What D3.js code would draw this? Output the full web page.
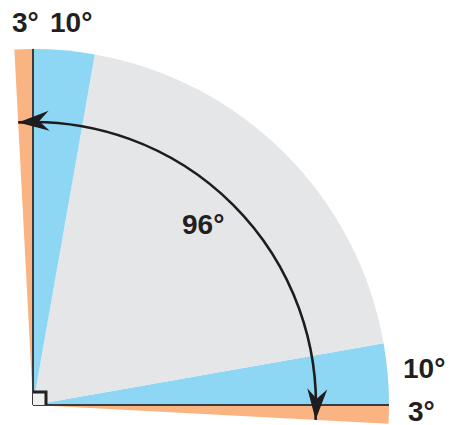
<!DOCTYPE html>
<html><head><meta charset="utf-8">
<script src="https://cdn.jsdelivr.net/npm/d3@7"></script>
<style>html,body{margin:0;padding:0;background:#fff}svg{display:block}</style>
</head><body>
<svg id="c" width="453" height="425"></svg>
<script>
// Data: angular bands in degrees (counter‑clockwise from the horizontal)
const bandFrom  = [-3, 0, 10, 80, 90];
const bandTo    = [0, 10, 80, 90, 93];
const bandKind  = ["tolerance", "margin", "range", "margin", "tolerance"];
const sweepFrom = -3, sweepTo = 93;          // total sweep arrow
const sweepLabel = "96°";
const topLabels = ["3°", "10°"];
const rightLabels = ["10°", "3°"];

const svg = d3.select("#c");
const cx = 33, cy = 405, R = 356, rArrow = 283;

// degree -> d3 arc angle (clockwise from 12 o'clock)
const ang = d3.scaleLinear().domain([0, 90]).range([Math.PI / 2, 0]);
const color = d3.scaleOrdinal().domain(["tolerance", "margin", "range"])
  .range(["#f9b482", "#8dd7f5", "#e5e6e8"]);

const g = svg.append("g").attr("transform", `translate(${cx},${cy})`);
const arc = d3.arc().innerRadius(0).outerRadius(R);

g.selectAll("path.band").data(bandFrom.map((f, i) => ({ f, t: bandTo[i], k: bandKind[i] })))
  .join("path").attr("class", "band")
  .attr("d", d => arc({ startAngle: ang(d.t), endAngle: ang(d.f) }))
  .attr("fill", d => color(d.k));

// axes (0° and 90° lines)
const pt = (deg, r) => [r * Math.sin(ang(deg)), -r * Math.cos(ang(deg))];
[0, 90].forEach(d => {
  const p = pt(d, R);
  g.append("line").attr("x1", 0).attr("y1", 0).attr("x2", p[0]).attr("y2", p[1])
    .attr("stroke", "#3b3b3d").attr("stroke-width", 2);
});

// right angle marker
const s = 13;
g.append("rect").attr("x", 0).attr("y", -s).attr("width", s).attr("height", s).attr("fill", "#eef0f1");
g.append("path").attr("d", `M0,${-s}H${s}V0`).attr("fill", "none")
  .attr("stroke", "#222").attr("stroke-width", 3);

// arrow heads
const defs = svg.append("defs");
defs.append("marker").attr("id", "ah").attr("markerUnits", "userSpaceOnUse")
  .attr("viewBox", "-33 -12 35 24").attr("refX", 0).attr("refY", 0)
  .attr("markerWidth", 35).attr("markerHeight", 24).attr("orient", "auto-start-reverse")
  .append("path").attr("d", "M0,0 L-31,-10 L-21,0 L-31,10 Z").attr("fill", "#1d1d1f");

const path = d3.path();
path.arc(0, 0, rArrow, -sweepFrom * Math.PI / 180, -sweepTo * Math.PI / 180, true);
g.append("path").attr("d", path.toString()).attr("fill", "none")
  .attr("stroke", "#1d1d1f").attr("stroke-width", 2.6)
  .attr("marker-start", "url(#ah)").attr("marker-end", "url(#ah)");

// labels
const font = "'Liberation Sans', Arial, sans-serif";
const txt = (x, y, t) => svg.append("text").attr("x", x).attr("y", y).text(t)
  .attr("font-family", font).attr("font-weight", "bold").attr("font-size", 28)
  .attr("fill", "#231f20");
txt(12, 32, topLabels[0]);
txt(50, 32, topLabels[1]);
txt(403, 378, rightLabels[0]);
txt(408, 421, rightLabels[1]);
txt(182, 234, sweepLabel);
</script>
</body></html>
